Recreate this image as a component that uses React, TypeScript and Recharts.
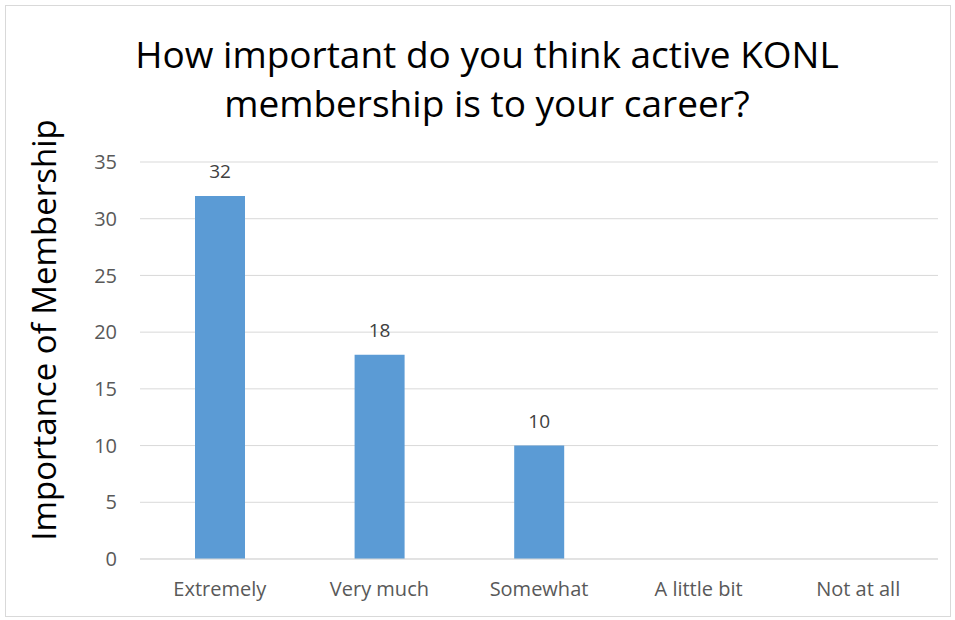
import React from 'react';
import { BarChart, Bar, XAxis, YAxis, CartesianGrid, LabelList } from 'recharts';

const categories = ['Extremely', 'Very much', 'Somewhat', 'A little bit', 'Not at all'];
const counts = [32, 18, 10, 0, 0];
const yTicks = [0, 5, 10, 15, 20, 25, 30, 35];

const titleLines = ['How important do you think active KONL', 'membership is to your career?'];
const yAxisTitle = 'Importance of Membership';

const BAR_COLOR = '#5b9bd5';
const GRID_COLOR = '#d9d9d9';
const TICK_COLOR = '#595959';
const FONT = '"Open Sans", sans-serif';

const data = categories.map((name, i) => ({ name, value: counts[i] }));

// the reference shows no "0" labels
const ValueLabel = (props: any) => {
  const { x, y, width, value } = props;
  if (!value) return null;
  return (
    <text x={x + width / 2} y={y - 18} textAnchor="middle" fill="#404040" fontSize={19} fontFamily={FONT}>
      {value}
    </text>
  );
};

const App: React.FC = () => {
  return (
    <div style={{ position: 'absolute', left: 0, top: 0, width: 955, height: 620, background: '#fff', fontFamily: FONT }}>
      {/* chart frame */}
      <div style={{ position: 'absolute', left: 5, top: 5, width: 946, height: 612, border: '1px solid #d9d9d9', boxSizing: 'border-box' }} />

      <BarChart
        width={955}
        height={620}
        data={data}
        margin={{ top: 162, right: 17, bottom: 0, left: 0 }}
        barCategoryGap={0}
        style={{ position: 'absolute', left: 0, top: 0 }}
      >
        <CartesianGrid vertical={false} stroke={GRID_COLOR} strokeWidth={1} />
        <XAxis
          dataKey="name"
          height={61}
          axisLine={{ stroke: GRID_COLOR }}
          tickLine={false}
          tickSize={0}
          tickMargin={23}
          tick={{ fill: TICK_COLOR, fontSize: 20, fontFamily: FONT }}
        />
        <YAxis
          width={140}
          domain={[0, 35]}
          ticks={yTicks}
          axisLine={false}
          tickLine={false}
          tickSize={0}
          tickMargin={23}
          tick={{ fill: TICK_COLOR, fontSize: 20, fontFamily: FONT }}
        />
        <Bar dataKey="value" fill={BAR_COLOR} barSize={50} isAnimationActive={false}>
          <LabelList dataKey="value" content={<ValueLabel />} />
        </Bar>
      </BarChart>

      <svg width={955} height={620} style={{ position: 'absolute', left: 0, top: 0, pointerEvents: 'none' }}>
        {titleLines.map((line, i) => (
          <text key={i} x={487} y={68 + i * 49} textAnchor="middle" fill="#000" fontSize={37} fontFamily={FONT}>
            {line}
          </text>
        ))}
        <text
          x={0}
          y={0}
          transform="translate(56, 330) rotate(-90)"
          textAnchor="middle"
          fill="#000"
          fontSize={33}
          fontFamily={FONT}
        >
          {yAxisTitle}
        </text>
      </svg>
    </div>
  );
};

export default App;
